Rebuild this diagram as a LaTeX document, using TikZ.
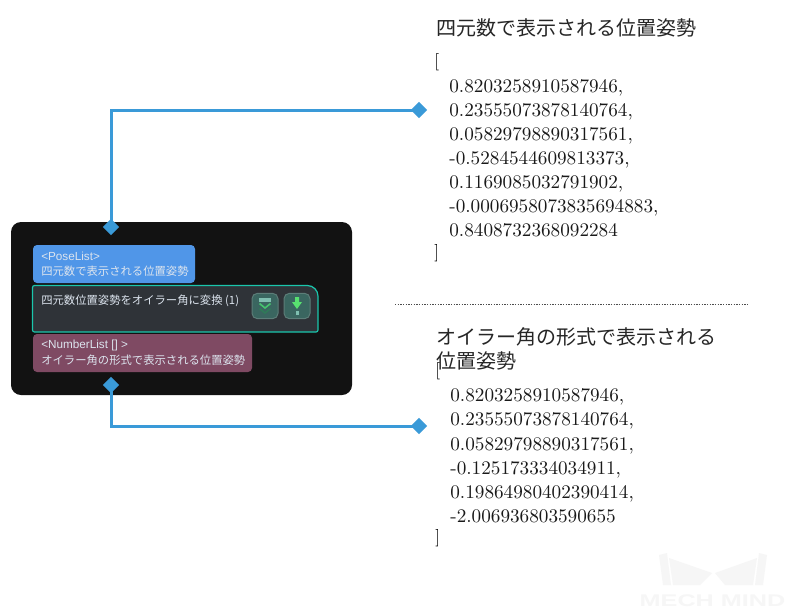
\documentclass[tikz,border=0pt]{standalone}
\usepackage{fontspec}
\newfontfamily\jpfont{Noto Sans CJK JP}
\newfontfamily\wmfont{Liberation Sans}
\usetikzlibrary{shapes.geometric}
\definecolor{wire}{HTML}{3A9AD8}
\definecolor{panel}{HTML}{121212}
\definecolor{blueport}{HTML}{5096E8}
\definecolor{pinkport}{HTML}{7F4A63}
\definecolor{stepline}{HTML}{1AC6AC}
\definecolor{stepfill}{HTML}{2F3338}
\definecolor{btnfill}{HTML}{3A6660}
\definecolor{btnline}{HTML}{5C7D78}
\definecolor{wmgray}{HTML}{F6F6F6}
\definecolor{porttext}{HTML}{DCE4EE}
\definecolor{icona}{HTML}{7FBFB0}
\definecolor{iconb}{HTML}{45C46E}
\definecolor{iconc}{HTML}{2F7A58}
\definecolor{icond}{HTML}{58E070}
\tikzset{
  x=0.75pt,y=-0.75pt,
  joint/.style={diamond,fill=wire,draw=none,minimum width=12.5pt,minimum height=12.5pt,inner sep=0pt},
  wireline/.style={draw=wire,line width=2.25pt},
  title/.style={font=\jpfont\fontsize{15}{18}\selectfont,anchor=west,inner sep=0pt,text=black!85},
  nums/.style={font=\fontsize{10}{12}\selectfont,scale=1.44,transform shape,anchor=base west,inner sep=0pt,text=black!90},
  brack/.style={font=\fontsize{10}{12}\selectfont,scale=1.3,transform shape,anchor=base west,inner sep=0pt,text=black},
  porttxt/.style={font=\jpfont\fontsize{8.5}{10}\selectfont,anchor=west,inner sep=0pt,text=porttext},
  portlat/.style={font=\wmfont\fontsize{8.8}{10}\selectfont,anchor=west,inner sep=0pt,text=porttext},
  btn/.style={draw=btnline,fill=btnfill,line width=0.75pt,rounded corners=4pt,minimum width=19.5pt,minimum height=19pt,inner sep=0pt}
}
\begin{document}
\begin{tikzpicture}
\useasboundingbox (0,0) rectangle (788,612);
\fill[white] (0,0) rectangle (788,612);
% watermark
\fill[wmgray] (659,555) -- (667,553) -- (671,585) -- (663,585) -- cycle;
\fill[wmgray] (669,558) -- (712,573) -- (700,585) -- (673,585) -- cycle;
\fill[wmgray] (767,555) -- (759,553) -- (755,585) -- (763,585) -- cycle;
\fill[wmgray] (757,558) -- (715,573) -- (725,585) -- (753,585) -- cycle;
\node[font=\wmfont\bfseries\fontsize{12.6}{14}\selectfont,text=wmgray,inner sep=0pt,xscale=1.5,transform shape] (wm) at (712.5,601) {MECH MIND};
% panel
\fill[panel,rounded corners=7.5pt] (11,222) rectangle (352,395);
% ports
\fill[blueport,rounded corners=3pt] (33,283) -- (33,245) -- (195,245) -- (195,283) -- cycle;
\fill[pinkport,rounded corners=3pt] (33,334) -- (33,372) -- (252,372) -- (252,334) -- cycle;
\node[portlat] (pl) at (41,256) {<PoseList>};
\node[porttxt] (plt) at (41,271.5) {四元数で表示される位置姿勢};
\node[portlat] (nl) at (41,345) {<NumberList [] >};
\node[porttxt] (nlt) at (41,360.5) {オイラー角の形式で表示される位置姿勢};
% step
\draw[stepline,fill=stepfill,line width=0.9pt,rounded corners=1.5pt] (32.5,332) -- (32.5,285.5) {[rounded corners=8pt] -- (318,285.5)} -- (318,332) -- cycle;
\node[porttxt] (st) at (41,301) {四元数位置姿勢をオイラー角に変換 (1)};
\node[btn] (b1) at (265,306) {};
\node[btn] (b2) at (297,306) {};
\fill[icona] (259,298) rectangle (271,301.5);
\draw[iconc,line width=1.2pt] (259.5,308.5) -- (265,313) -- (270.5,308.5);
\draw[iconb,line width=1.2pt] (259.5,303.5) -- (265,308) -- (270.5,303.5);
\fill[icond] (295,297) rectangle (299,302) (292,302) -- (302,302) -- (297,309) -- cycle;
\fill[icona] (295.5,311) rectangle (298.5,314.5);
% connectors
\node[joint] (j1) at (111,227) {};
\node[joint] (j2) at (111,385) {};
\node[joint] (j3) at (419,110) {};
\node[joint] (j4) at (419,426) {};
\draw[wireline] (j1.center) |- (j3.center);
\draw[wireline] (j2.center) |- (j4.center);
% divider
\coordinate (d1) at (395,304.5);
\coordinate (d2) at (749,304.5);
\draw[black!70,line width=0.75pt,dash pattern=on 0.9pt off 1.1pt] (d1) -- (d2);
% right top
\node[title] (t1) at (436.5,28) {四元数で表示される位置姿勢};
\node[brack] (a0) at (434,66.7) {[};
\node[nums] (a1) at (449,92) {0.8203258910587946,};
\node[nums] (a2) at (449,116.5) {0.23555073878140764,};
\node[nums] (a3) at (449,140.5) {0.05829798890317561,};
\node[nums] (a4) at (449,164.5) {-0.5284544609813373,};
\node[nums] (a5) at (449,188.5) {0.1169085032791902,};
\node[nums] (a6) at (449,212.5) {-0.0006958073835694883,};
\node[nums] (a7) at (449,236.5) {0.8408732368092284};
\node[brack] (a8) at (434,257.7) {]};
% right bottom
\node[title] (t2) at (436.5,337) {オイラー角の形式で表示される};
\node[title] (t3) at (436.5,361) {位置姿勢};
\node[brack] (c0) at (435,375.7) {[};
\node[nums] (c1) at (450,401.5) {0.8203258910587946,};
\node[nums] (c2) at (450,425.5) {0.23555073878140764,};
\node[nums] (c3) at (450,450) {0.05829798890317561,};
\node[nums] (c4) at (450,474) {-0.125173334034911,};
\node[nums] (c5) at (450,498) {0.19864980402390414,};
\node[nums] (c6) at (450,522) {-2.006936803590655};
\node[brack] (c7) at (435,542.7) {]};
\end{tikzpicture}
\end{document}
